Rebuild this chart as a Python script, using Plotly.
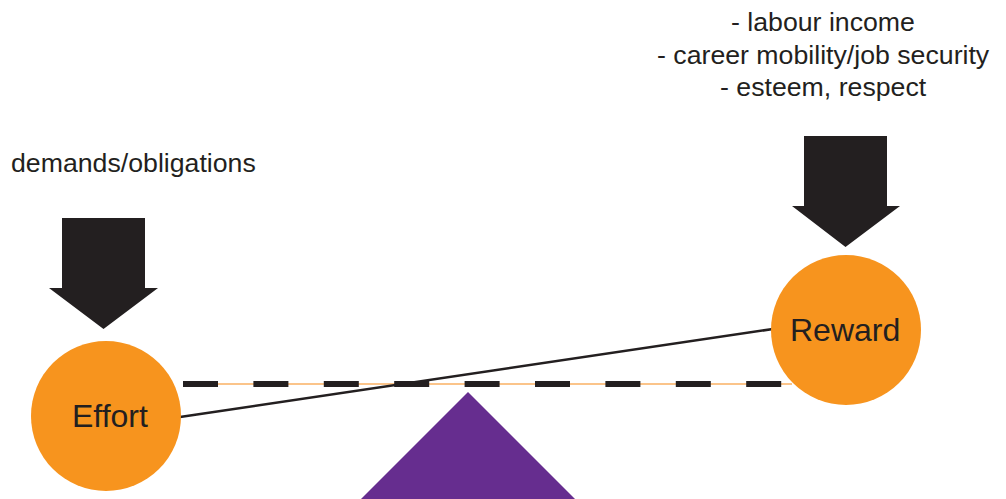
import plotly.graph_objects as go

# ---- diagram content ----
node_labels = ["Effort", "Reward"]
effort_factors = ["demands/obligations"]
reward_factors = ["- labour income", "- career mobility/job security", "- esteem, respect"]

# geometry (pixel coordinates of a 1006x499 canvas, y downward)
node_cx = [106, 846]
node_cy = [416, 330]
label_dx = [4, -1]
node_r = 75
ORANGE = "#F7941E"
LIGHT_ORANGE = "#FBC48A"
DARK = "#231F20"
PURPLE = "#662D8F"
FONT = "Liberation Sans, Arial, Helvetica, sans-serif"
OFF = 8  # page body margin compensation

fig = go.Figure()
shapes = []

# balance beam reference (dashed level line)
shapes.append(dict(type="line", x0=184, y0=384, x1=792, y1=384,
                   line=dict(color=LIGHT_ORANGE, width=2), layer="above"))
shapes.append(dict(type="line", x0=183, y0=384, x1=782, y1=384,
                   line=dict(color=DARK, width=6, dash="35px,35.4px"), layer="above"))
# tilted beam
shapes.append(dict(type="line", x0=180, y0=417, x1=773, y1=329,
                   line=dict(color=DARK, width=2.5), layer="above"))

# fulcrum
shapes.append(dict(type="path", path="M 468 392 L 581 505 L 355 505 Z",
                   fillcolor=PURPLE, line=dict(width=0), layer="above"))

# arrows
def arrow(sx0, sx1, top, hy, hx0, hx1, tip):
    cx = (sx0 + sx1) / 2
    return (f"M {sx0} {top} L {sx1} {top} L {sx1} {hy} L {hx1} {hy} "
            f"L {cx} {tip} L {hx0} {hy} L {sx0} {hy} Z")

shapes.append(dict(type="path", path=arrow(62, 145, 218, 288, 49, 158, 329),
                   fillcolor=DARK, line=dict(width=0), layer="above"))
shapes.append(dict(type="path", path=arrow(804, 887, 136, 206, 792, 900, 247),
                   fillcolor=DARK, line=dict(width=0), layer="above"))

# nodes
for cx, cy in zip(node_cx, node_cy):
    shapes.append(dict(type="circle", x0=cx - node_r, y0=cy - node_r,
                       x1=cx + node_r, y1=cy + node_r,
                       fillcolor=ORANGE, line=dict(width=0), layer="above"))

annotations = []
for lab, cx, cy, dx in zip(node_labels, node_cx, node_cy, label_dx):
    annotations.append(dict(x=cx + dx, y=cy, text=lab, showarrow=False,
                            xanchor="center", yanchor="middle",
                            font=dict(family=FONT, size=32, color=DARK)))

annotations.append(dict(x=9, y=163, text=effort_factors[0], showarrow=False,
                        xanchor="left", yanchor="middle",
                        font=dict(family=FONT, size=26.7, color=DARK)))
for i, t in enumerate(reward_factors):
    annotations.append(dict(x=823, y=22 + 32.5 * i, text=t, showarrow=False,
                            xanchor="center", yanchor="middle",
                            font=dict(family=FONT, size=26.7, color=DARK)))

# invisible trace to establish axes
fig.add_trace(go.Scatter(x=[0, 1006], y=[0, 499], mode="markers",
                         marker=dict(opacity=0), hoverinfo="skip", showlegend=False))

fig.update_layout(
    width=1006, height=499,
    margin=dict(l=0, r=0, t=0, b=0),
    paper_bgcolor="white", plot_bgcolor="white",
    shapes=shapes, annotations=annotations,
    xaxis=dict(range=[OFF, 1006 + OFF], visible=False, fixedrange=True),
    yaxis=dict(range=[499 + OFF, OFF], visible=False, fixedrange=True),
    showlegend=False,
)

fig.write_html("out.html", config={"displayModeBar": False})
